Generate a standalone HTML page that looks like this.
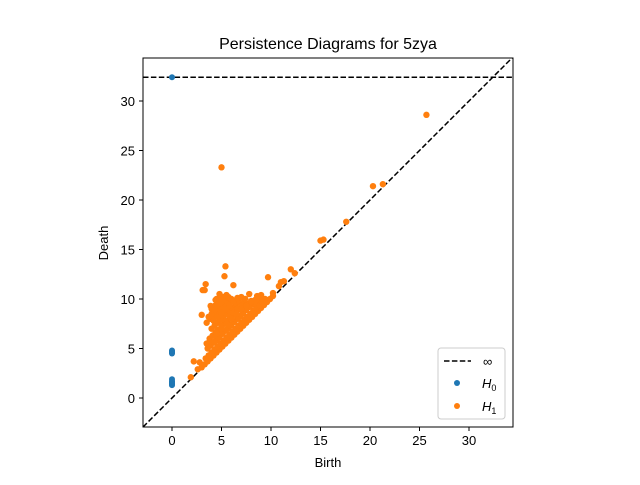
<!DOCTYPE html>
<html><head><meta charset="utf-8"><style>
body{margin:0;background:#fff}
svg{font-family:"Liberation Sans","DejaVu Sans",sans-serif}
</style></head><body>
<svg id="chart" width="640" height="480">
<rect width="640" height="480" fill="#fff"/>
<text x="328" y="49" font-size="16" text-anchor="middle">Persistence Diagrams for 5zya</text>
<g id="plot"></g>
<text x="328" y="467" font-size="13" text-anchor="middle">Birth</text>
<text transform="translate(108,243) rotate(-90)" font-size="13" text-anchor="middle">Death</text>
</svg>
<script>
const xTicks=[0,5,10,15,20,25,30];
const yTicks=[0,5,10,15,20,25,30];
const infDeath=32.4;
const h0Births=[0,0,0,0,0,0,0,0,0,0,0];
const h0Deaths=[32.4,4.5,4.6,4.7,4.8,1.3,1.4,1.5,1.6,1.7,1.9];
const h1Births=[25.7,5.0,20.3,21.3,17.6,15.0,15.3,5.4,5.3,9.7,3.4,12.0,12.4,11.3,10.8,11.0,10.2,9.4,9.0,8.8,8.5,3.0,3.1,3.3,4.5,2.2,1.9,2.6,2.8,
3.0,3.3,3.6,3.9,4.2,4.5,4.8,5.1,5.4,5.7,6.0,6.3,6.6,6.9,7.2,7.5,7.8,8.1,8.4,8.7,9.0,9.3,9.6,9.9,10.2,
3.4,3.7,4.0,4.3,4.6,4.9,5.2,5.5,5.8,6.1,6.4,6.7,7.0,7.3,7.6,7.9,8.2,8.5,8.8,9.1,
3.6,3.9,4.2,4.5,4.8,5.1,5.4,5.7,6.0,6.3,6.6,6.9,7.2,7.5,7.8,8.1,
3.8,4.1,4.4,4.7,5.0,5.3,5.6,5.9,6.2,6.5,6.8,7.1,7.4,
4.0,4.3,4.6,4.9,5.2,5.5,5.8,6.1,6.4,6.7,
3.9,4.2,4.5,4.8,5.1,5.4,5.7,6.0,
4.0,4.3,4.6,4.9,5.2,5.5,
4.4,4.8,5.2,5.6,6.0,6.4,6.8,7.2,7.6,8.0,8.4,8.8,
3.5,3.8,4.2,4.6,5.0,5.4,5.8,6.2,6.6,7.0,7.4,7.8,8.2,
3.5,3.7,4.0,4.3,4.6,4.9,5.2,5.5,
4.3,4.7,5.1,5.5,5.9,6.3,6.7,7.1,7.5,7.9,8.3,
4.5,5.0,5.5,6.0,6.5,7.0,7.5,8.0,8.5,9.0,
4.2,4.6,5.0,5.4,5.8,6.2,6.6,7.0,7.4,
6.2,7.8,8.6,4.8,3.9,5.7];
const h1Deaths=[28.6,23.3,21.4,21.6,17.8,15.9,16.0,13.3,12.3,12.2,11.5,13.0,12.6,11.8,11.3,11.7,10.6,10.0,10.4,9.6,9.6,8.4,10.9,10.9,10.0,3.7,2.1,2.9,3.6,
3.1,3.4,3.7,4.0,4.3,4.6,4.9,5.2,5.5,5.8,6.1,6.4,6.7,7.0,7.3,7.6,7.9,8.2,8.5,8.8,9.1,9.4,9.7,10.0,10.3,
4.0,4.3,4.6,4.9,5.2,5.5,5.8,6.1,6.4,6.7,7.0,7.3,7.6,7.9,8.2,8.5,8.8,9.1,9.4,9.7,
5.0,5.3,5.6,5.9,6.2,6.5,6.8,7.1,7.4,7.7,8.0,8.3,8.6,8.9,9.2,9.5,
6.0,6.3,6.6,6.9,7.2,7.5,7.8,8.1,8.4,8.7,9.0,9.3,9.6,
7.0,7.3,7.6,7.9,8.2,8.5,8.8,9.1,9.4,9.7,
8.0,8.3,8.6,8.9,9.2,9.5,9.8,10.0,
9.0,9.3,9.6,9.9,10.2,10.4,
9.9,9.9,9.8,9.7,9.8,9.6,9.7,9.6,9.5,9.8,9.9,10.1,
5.5,5.7,6.3,6.8,7.3,7.8,8.3,8.6,9.0,9.3,9.2,9.5,9.6,
7.6,8.2,8.5,8.9,9.4,9.6,10.0,10.3,
5.7,6.1,6.5,6.9,7.3,7.7,8.1,8.5,8.9,9.3,9.6,
6.5,7.0,7.5,8.0,8.5,9.0,9.3,9.7,9.9,10.2,
7.8,8.2,8.6,9.0,9.4,9.8,10.1,10.2,10.0,
11.4,10.5,10.3,10.5,9.3,10.2];
const X0=172,Y0=398,S=9.9,L=143,R=513,T=58,B=427;
const xs=v=>X0+v*S, ys=v=>Y0-v*S;
const NS='http://www.w3.org/2000/svg';
const g=document.getElementById('plot');
function mk(t,a,p){const e=document.createElementNS(NS,t);for(const k in a)e.setAttribute(k,a[k]);(p||g).appendChild(e);return e;}
const cp=mk('clipPath',{id:'cp'});mk('rect',{x:L,y:T,width:R-L,height:B-T},cp);
const diag=mk('line',{x1:L,y1:Y0-(L-X0),x2:R,y2:Y0-(R-X0),stroke:'#000','stroke-width':1.5,'stroke-dasharray':'5.5,2.4','clip-path':'url(#cp)'});


const inf=mk('line',{x1:L,y1:ys(infDeath),x2:R,y2:ys(infDeath),stroke:'#000','stroke-width':1.5,'stroke-dasharray':'5.5,2.4'});


h1Births.forEach((b,i)=>{const c=mk('circle',{cx:xs(b),cy:ys(h1Deaths[i]),r:3.2,fill:'#ff7f0e'});

});
h0Births.forEach((b,i)=>{const c=mk('circle',{cx:xs(b),cy:ys(h0Deaths[i]),r:3,fill:'#1f77b4'});

});
mk('rect',{x:L,y:T,width:R-L,height:B-T,fill:'none',stroke:'#000','stroke-width':1});
xTicks.forEach(v=>{mk('line',{x1:xs(v),y1:B,x2:xs(v),y2:B+4,stroke:'#000'});
const t=mk('text',{x:xs(v),y:B+18,'font-size':13,'text-anchor':'middle'});t.textContent=v;

});
yTicks.forEach(v=>{mk('line',{x1:L-4,y1:ys(v),x2:L,y2:ys(v),stroke:'#000'});
const t=mk('text',{x:L-8,y:ys(v)+5,'font-size':13,'text-anchor':'end'});t.textContent=v;

});
const lg=mk('g',{});


mk('rect',{x:438,y:348,width:67,height:71,rx:3,fill:'#fff','fill-opacity':0.8,stroke:'#ccc'},lg);
mk('line',{x1:444,y1:361,x2:471,y2:361,stroke:'#000','stroke-width':1.5,'stroke-dasharray':'5.5,2.4'},lg);
let t=mk('text',{x:483,y:366,'font-size':13},lg);t.textContent='∞';
mk('circle',{cx:457,cy:383,r:3,fill:'#1f77b4'},lg);
t=mk('text',{x:482,y:388,'font-size':13,'font-style':'italic'},lg);t.innerHTML='H<tspan font-style="normal" font-size="9" dy="3">0</tspan>';
mk('circle',{cx:457,cy:406,r:3,fill:'#ff7f0e'},lg);
t=mk('text',{x:482,y:411,'font-size':13,'font-style':'italic'},lg);t.innerHTML='H<tspan font-style="normal" font-size="9" dy="3">1</tspan>';
</script>
</body></html>
